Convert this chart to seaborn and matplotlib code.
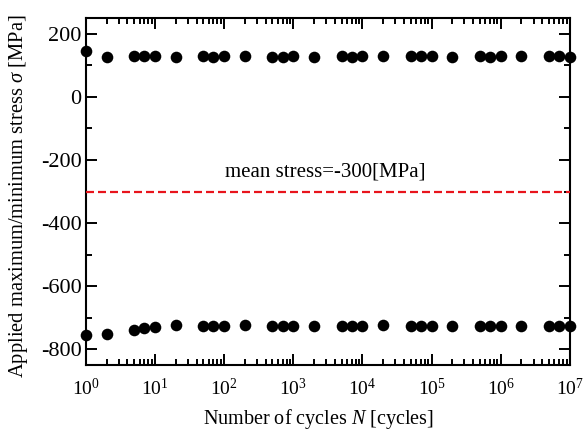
import numpy as np
import pandas as pd
import matplotlib
matplotlib.use("Agg")
import matplotlib.pyplot as plt
import seaborn as sns
from matplotlib.ticker import LogLocator, MultipleLocator, LogFormatterMathtext, NullFormatter

# Loading cycles at which the stress peaks were recorded
cycles = [1, 2, 5, 7, 10, 20, 50, 70, 100, 200, 500, 700, 1e3, 2e3, 5e3, 7e3,
          1e4, 2e4, 5e4, 7e4, 1e5, 2e5, 5e5, 7e5, 1e6, 2e6, 5e6, 7e6, 1e7]

# Applied maximum stress [MPa]
max_stress = [147, 126, 131, 131, 131, 127, 129, 128, 130, 129, 128, 128, 129, 128, 129,
              127, 129, 129, 130, 130, 131, 128, 129, 128, 130, 129, 129, 129, 128]

# Applied minimum stress [MPa]
min_stress = [-755, -752, -739, -734, -729, -723, -725, -725, -725, -724, -725, -725,
              -725, -725, -725, -725, -725, -724, -725, -725, -725, -725, -725, -725,
              -725, -725, -725, -725, -725]

mean_stress = -300

sns.set_theme(style="ticks")
plt.rcParams.update({
    "font.family": ["Liberation Serif", "DejaVu Serif"],
    "mathtext.fontset": "custom",
    "mathtext.rm": "Liberation Serif",
    "mathtext.it": "Liberation Serif:italic",
    "mathtext.bf": "Liberation Serif:bold",
    "axes.unicode_minus": False,
    "font.size": 14.5,
    "text.color": "black",
    "axes.labelcolor": "black",
    "xtick.color": "black",
    "ytick.color": "black",
})

df = pd.DataFrame({
    "N": cycles * 2,
    "stress": max_stress + min_stress,
    "kind": ["max"] * len(cycles) + ["min"] * len(cycles),
})

fig = plt.figure(figsize=(5.88, 4.30), dpi=100)
ax = fig.add_axes([0.146, 0.151, 0.823, 0.807])

sns.scatterplot(data=df, x="N", y="stress", ax=ax, color="black", s=70,
                edgecolor="black", linewidth=0, legend=False, clip_on=False, zorder=5)

ax.axhline(mean_stress, color="#e8141c", lw=1.6, ls=(0, (3.6, 1.8)), zorder=3)
ax.text(2900, -238, "mean stress=-300[MPa]", ha="center", va="center",
        fontsize=15, color="black")

ax.set_xscale("log")
ax.set_xlim(1, 1e7)
ax.set_ylim(-850, 250)

ax.xaxis.set_major_locator(LogLocator(base=10, numticks=20))
ax.xaxis.set_minor_locator(LogLocator(base=10, subs=np.arange(2, 10), numticks=20))
ax.xaxis.set_major_formatter(LogFormatterMathtext())
ax.xaxis.set_minor_formatter(NullFormatter())
ax.yaxis.set_major_locator(MultipleLocator(200))
ax.yaxis.set_minor_locator(MultipleLocator(100))

ax.tick_params(which="both", direction="in", top=True, right=True, width=1.4,
               colors="black", labelcolor="black")
ax.tick_params(which="major", length=8)
ax.tick_params(which="minor", length=4.5)
ax.tick_params(axis="x", which="major", labelsize=14, pad=9)
ax.tick_params(axis="y", which="major", labelsize=16, pad=3)
for s in ax.spines.values():
    s.set_linewidth(1.5)
    s.set_color("black")

ax.set_xlabel(r"Number of cycles $\mathit{N}$ [cycles]", fontsize=14.5, color="black")
ax.set_ylabel(r"Applied maximum/minimum stress $\mathit{\sigma}$ [MPa]", fontsize=14.8,
              color="black")
ax.xaxis.set_label_coords(0.481, -0.12)
ax.yaxis.set_label_coords(-0.116, 0.487)

fig.savefig("out.png", dpi=100)
